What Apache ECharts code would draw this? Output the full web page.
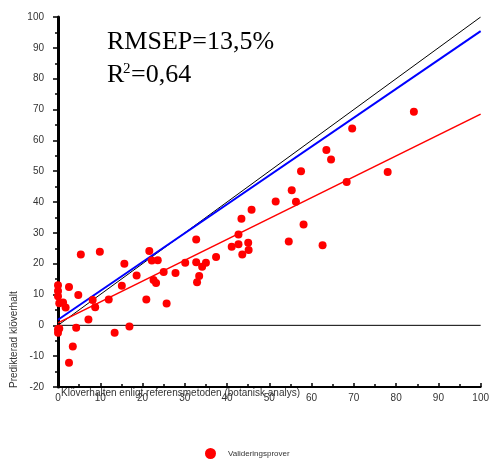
<!DOCTYPE html>
<html><head><meta charset="utf-8">
<script src="https://cdn.jsdelivr.net/npm/echarts@6/dist/echarts.min.js"></script>
<style>html,body{margin:0;padding:0;background:#fff}#c{width:492px;height:460px}</style>
</head><body><div id="c"></div>
<script>
const refX = [0,0,0,0.3,1.2,1.8,2.6,4.8,0,0.3,0,4.3,3.5,2.6,5.4,7.2,8.2,8.8,9.9,12.0,13.4,15.1,15.7,16.9,18.6,20.9,21.6,22.2,23.6,22.6,23.2,25.0,25.7,27.8,30.1,32.7,32.7,32.9,33.4,34.1,35.0,37.4,41.1,42.7,42.7,43.4,43.6,45.0,45.1,45.8,51.5,54.6,55.3,56.3,57.5,58.1,62.6,63.5,64.6,68.3,69.6,78.0,84.2];
const predY = [13.0,11.1,9.4,7.2,7.4,5.8,12.4,9.8,-1.3,-1.0,-2.4,-0.8,-6.9,-12.1,23.0,1.9,8.2,5.9,23.9,8.4,-2.4,12.8,20.0,-0.4,16.2,8.4,24.1,21.0,21.1,14.7,13.7,17.3,7.1,17.0,20.3,27.8,20.5,14.0,16.0,19.0,20.3,22.2,25.5,26.3,29.5,34.6,23.0,26.8,24.4,37.5,40.2,27.2,43.8,40.1,50.0,32.7,26.0,56.9,53.8,46.5,63.8,49.7,69.3];
const lineX = [0, 100];
const identityY = [0, 100];
const blueY = [1.8, 95.4];
const redY = [0.8, 68.5];
const zeroY = [0, 0];
const xTicks = [0,10,20,30,40,50,60,70,80,90,100];
const yTicks = [-20,-10,0,10,20,30,40,50,60,70,80,90,100];

const pts = refX.map((x,i)=>[x, predY[i]]);
const ln = ys => lineX.map((x,i)=>[x, ys[i]]);
const font = '"Liberation Sans", Arial, sans-serif';
const serif = '"Liberation Serif", "Times New Roman", serif';

const chart = echarts.init(document.getElementById('c'), null, {renderer:'canvas'});
chart.setOption({
  animation: false,
  grid: {left: 58, right: 1, top: 17, bottom: 73, containLabel: false},
  xAxis: {
    type: 'value', min: xTicks[0], max: xTicks[xTicks.length-1], interval: 10,
    axisLine: {show: true, onZero: false, lineStyle: {color: '#000', width: 2}},
    axisTick: {show: true, inside: true, length: 4, lineStyle: {color: '#000', width: 1.5}},
    minorTick: {show: true, splitNumber: 2, length: 3, lineStyle: {color: '#000', width: 1.5}},
    splitLine: {show: false},
    axisLabel: {color: '#333', fontSize: 10, fontFamily: font, margin: 6}
  },
  yAxis: {
    type: 'value', min: yTicks[0], max: yTicks[yTicks.length-1], interval: 10,
    axisLine: {show: true, onZero: false, lineStyle: {color: '#000', width: 3}},
    axisTick: {show: true, inside: false, length: 5, lineStyle: {color: '#000', width: 1.5}},
    minorTick: {show: true, splitNumber: 2, length: 3, lineStyle: {color: '#000', width: 1.5}},
    splitLine: {show: false},
    axisLabel: {color: '#333', fontSize: 10, fontFamily: font, margin: 14}
  },
  legend: {
    data: ['Valideringsprover'], left: 200, top: 443, padding: 5, itemWidth: 11, itemHeight: 11,
    icon: 'circle', textStyle: {fontSize: 8, color: '#333', fontFamily: font, padding: [0,0,0,7]}
  },
  series: [
    {type: 'line', data: ln(zeroY), symbol: 'none', silent: true, lineStyle: {color: '#000', width: 1}, z: 1},
    {type: 'line', data: ln(identityY), symbol: 'none', silent: true, lineStyle: {color: '#000', width: 1}, z: 2},
    {type: 'line', data: ln(blueY), symbol: 'none', silent: true, lineStyle: {color: '#0000ff', width: 2}, z: 3},
    {type: 'line', data: ln(redY), symbol: 'none', silent: true, lineStyle: {color: '#ff0000', width: 1.6}, z: 3},
    {name: 'Valideringsprover', type: 'scatter', data: pts, symbol: 'circle', symbolSize: 8,
     itemStyle: {color: '#ff0000', opacity: 1}, z: 5}
  ],
  graphic: [
    {type: 'text', left: 107, top: 29, style: {text: 'RMSEP=13,5%', fontSize: 26, fontFamily: serif, fill: '#000'}},
    {type: 'text', left: 107, top: 62, style: {text: 'R', fontSize: 26, fontFamily: serif, fill: '#000'}},
    {type: 'text', left: 123, top: 62, style: {text: '2', fontSize: 15, fontFamily: serif, fill: '#000'}},
    {type: 'text', left: 131, top: 62, style: {text: '=0,64', fontSize: 26, fontFamily: serif, fill: '#000'}},
    {type: 'text', left: 61, top: 388, style: {text: 'Klöverhalten enligt referensmetoden (botanisk analys)', fontSize: 10, fontFamily: font, fill: '#333'}},
    {type: 'text', x: 9, y: 388, rotation: Math.PI/2, style: {text: 'Predikterad klöverhalt', fontSize: 10, fontFamily: font, fill: '#333', align: 'left', verticalAlign: 'top'}}
  ]
});
</script></body></html>
